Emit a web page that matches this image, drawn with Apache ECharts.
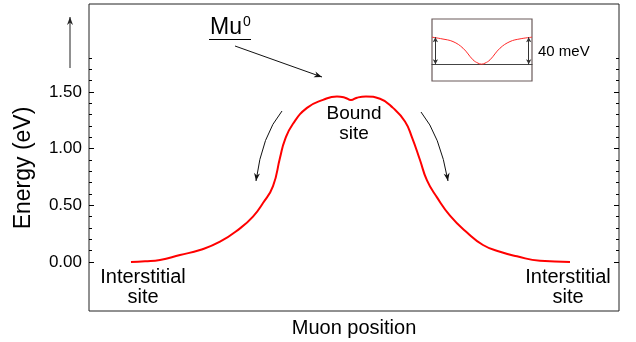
<!DOCTYPE html>
<html><head><meta charset="utf-8">
<script src="https://cdn.jsdelivr.net/npm/echarts@6/dist/echarts.min.js"></script>
<style>html,body{margin:0;padding:0;background:#fff}#c{width:636px;height:342px}</style>
</head><body><div id="c"></div>
<script>
// Main curve: muon position (arbitrary units) vs energy (eV)
const xPos = [7.92, 10.57, 13.40, 17.17, 20.94, 24.72, 28.49, 30.94, 32.83, 34.72, 36.04, 36.98, 38.49, 41.13, 44.15, 46.79, 48.30, 49.43, 50.57, 52.26, 54.91, 57.36, 59.62, 60.94, 62.45, 63.77, 65.66, 68.11, 71.32, 74.34, 77.55, 80.75, 85.09, 90.75];
const energy = [0.00, 0.006, 0.018, 0.062, 0.106, 0.179, 0.297, 0.40, 0.52, 0.67, 0.92, 1.08, 1.22, 1.36, 1.43, 1.46, 1.45, 1.43, 1.45, 1.46, 1.44, 1.36, 1.24, 1.10, 0.90, 0.72, 0.57, 0.41, 0.26, 0.15, 0.09, 0.05, 0.01, 0.00];
// Inset: zoom of the bound-site dip (meV)
const insetX = [0, 10, 21, 31, 41, 46, 49.5, 53, 58, 68, 78, 88, 100];
const insetE = [40, 37.5, 33.5, 23.7, 6.4, 1.5, 0, 1.5, 6.4, 23.7, 33.5, 37.5, 40];
// Tick values
const majorTicks = [0, 0.5, 1.0, 1.5];
const minorTicks = [0.1, 0.2, 0.3, 0.4, 0.6, 0.7, 0.8, 0.9, 1.1, 1.2, 1.3, 1.4, 1.6, 1.7, 1.8];

const FONT = '"Liberation Sans", Arial, Helvetica, sans-serif';
const chart = echarts.init(document.getElementById('c'), null, {renderer: 'canvas'});

function arrowHead(tx, ty, ang, L, W, color) {
  const dx = Math.cos(ang), dy = Math.sin(ang);
  const nx = -dy, ny = dx;
  return {type: 'polygon', silent: true,
    shape: {points: [[tx, ty], [tx - L*dx + W*nx, ty - L*dy + W*ny], [tx - 0.7*L*dx, ty - 0.7*L*dy], [tx - L*dx - W*nx, ty - L*dy - W*ny]]},
    style: {fill: color}};
}
function curvedArrow(x1, y1, cx, cy, x2, y2, color) {
  const ang = Math.atan2(y2 - cy, x2 - cx);
  return [
    {type: 'bezierCurve', silent: true, shape: {x1, y1, x2, y2, cpx1: cx, cpy1: cy},
     style: {stroke: color, lineWidth: 1, fill: null}},
    arrowHead(x2, y2, ang, 8, 3, color)
  ];
}
function straightArrow(x1, y1, x2, y2, color, L, W) {
  const ang = Math.atan2(y2 - y1, x2 - x1);
  return [
    {type: 'line', silent: true, shape: {x1, y1, x2, y2}, style: {stroke: color, lineWidth: 1}},
    arrowHead(x2, y2, ang, L, W, color)
  ];
}
function txt(text, x, y, size, align) {
  return {type: 'text', silent: true, x, y,
    style: {text, fontSize: size, fontFamily: FONT, fill: '#000', align: align || 'center', verticalAlign: 'middle', lineHeight: 20}};
}

const yMin = -0.4324, yMax = 2.2765;
const tickAxis = (pos, vals, len, labels) => ({
  type: 'value', gridIndex: 0, position: pos, min: yMin, max: yMax,
  axisLine: {show: false}, splitLine: {show: false},
  axisTick: {show: true, inside: true, length: len, customValues: vals, lineStyle: {color: '#000', width: 1}},
  axisLabel: labels ? {show: true, customValues: vals, fontSize: 17, fontFamily: FONT, color: '#000', margin: 7,
    formatter: v => Number(v).toFixed(2)} : {show: false}
});

const option = {
  animation: false,
  backgroundColor: '#fff',
  grid: [
    {left: 89, top: 4, width: 530, height: 307, containLabel: false, outerBoundsMode: 'none',
     show: true, borderColor: '#222', borderWidth: 1, backgroundColor: 'transparent'},
    {left: 432, top: 19, width: 100, height: 62, containLabel: false, outerBoundsMode: 'none',
     show: true, borderColor: '#6a5a5a', borderWidth: 1.2, backgroundColor: '#fff'}
  ],
  xAxis: [
    {type: 'value', gridIndex: 0, min: 0, max: 100, axisLine: {show: false}, axisTick: {show: false},
     axisLabel: {show: false}, splitLine: {show: false},
     name: 'Muon position', nameLocation: 'middle', nameGap: 7,
     nameTextStyle: {fontSize: 20, fontFamily: FONT, color: '#000'}},
    {type: 'value', gridIndex: 1, min: 0, max: 100, axisLine: {show: true, onZero: true, lineStyle: {color: '#444', width: 1.2}},
     axisTick: {show: false}, axisLabel: {show: false}, splitLine: {show: false}}
  ],
  yAxis: [
    tickAxis('left', majorTicks, 5, true),
    tickAxis('left', minorTicks, 3, false),
    tickAxis('right', majorTicks, 5, false),
    tickAxis('right', minorTicks, 3, false),
    {type: 'value', gridIndex: 1, min: -25, max: 67, axisLine: {show: false}, axisTick: {show: false},
     axisLabel: {show: false}, splitLine: {show: false}}
  ],
  series: [
    {type: 'line', xAxisIndex: 0, yAxisIndex: 0, data: xPos.map((x, i) => [x, energy[i]]),
     smooth: 0.5, showSymbol: false, lineStyle: {color: '#ff0000', width: 2}},
    {type: 'line', xAxisIndex: 1, yAxisIndex: 4, data: insetX.map((x, i) => [x, insetE[i]]),
     smooth: 0.4, showSymbol: false, lineStyle: {color: '#ff2a2a', width: 1},
     markLine: {silent: true, symbol: ['arrow', 'arrow'], symbolSize: [4, 5], label: {show: false},
       lineStyle: {color: '#333', width: 1, type: 'solid'},
       data: [[{coord: [3.4, 40]}, {coord: [3.4, 0]}], [{coord: [96.7, 40]}, {coord: [96.7, 0]}]]}}
  ],
  graphic: [
    {type: 'text', silent: true, x: 24, y: 168, rotation: Math.PI / 2,
     style: {text: 'Energy (eV)', fontSize: 23, fontFamily: FONT, fill: '#000', align: 'center', verticalAlign: 'middle'}},
    txt('Interstitial\nsite', 143, 287, 20),
    txt('Interstitial\nsite', 568, 287, 20),
    txt('Bound\nsite', 354, 124, 19),
    txt('40 meV', 538, 52, 15, 'left'),
    {type: 'text', silent: true, x: 210, y: 27,
     style: {text: '{a|Mu}{b|0}', fontFamily: FONT, fill: '#000', align: 'left', verticalAlign: 'middle',
       rich: {a: {fontSize: 23, fontFamily: FONT, fill: '#000', verticalAlign: 'bottom'},
              b: {fontSize: 14, fontFamily: FONT, fill: '#000', verticalAlign: 'top', padding: [0, 0, 10, 1]}}}},
    {type: 'line', silent: true, shape: {x1: 209, y1: 39.5, x2: 251, y2: 39.5}, style: {stroke: '#000', lineWidth: 1}},
    ...straightArrow(235, 46, 322, 77, '#111', 8, 3),
    ...straightArrow(70, 68, 70, 17, '#222', 8, 3),
    ...curvedArrow(282, 111, 262, 135, 256, 181, '#111'),
    ...curvedArrow(421, 112, 440, 135, 448, 181, '#111')
  ]
};
chart.setOption(option);
</script></body></html>
